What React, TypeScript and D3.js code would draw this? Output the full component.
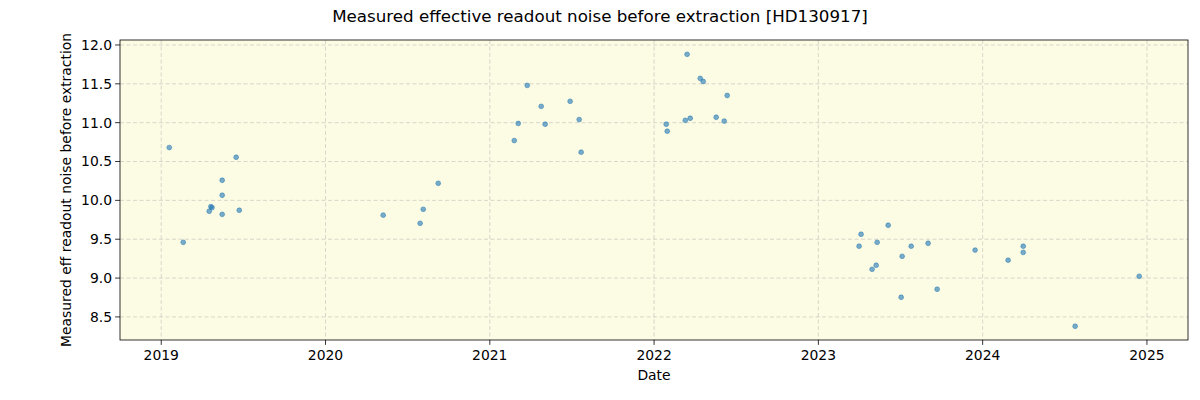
import React from "react";
import * as d3 from "d3";

const years: number[] = [
  2019.049, 2019.456, 2019.371, 2019.371, 2019.309, 2019.302, 2019.292, 2019.371, 2019.475, 2019.134,
  2020.686, 2020.595, 2020.351, 2020.576,
  2021.228, 2021.313, 2021.489, 2021.173, 2021.337, 2021.544, 2021.149, 2021.556,
  2022.201, 2022.281, 2022.299, 2022.445, 2022.074, 2022.08, 2022.19, 2022.22, 2022.378, 2022.427,
  2023.425, 2023.26, 2023.248, 2023.358, 2023.565, 2023.668, 2023.51, 2023.352, 2023.327, 2023.723, 2023.504,
  2023.954, 2024.247, 2024.247, 2024.155, 2024.953, 2024.563,
];
const noise: number[] = [
  10.68, 10.555, 10.259, 10.066, 9.906, 9.92, 9.86, 9.82, 9.873, 9.46,
  10.22, 9.885, 9.81, 9.705,
  11.48, 11.21, 11.275, 10.99, 10.98, 11.04, 10.77, 10.62,
  11.88, 11.57, 11.53, 11.35, 10.98, 10.89, 11.03, 11.057, 11.07, 11.02,
  9.68, 9.564, 9.41, 9.46, 9.41, 9.448, 9.28, 9.165, 9.113, 8.856, 8.753,
  9.36, 9.41, 9.33, 9.23, 9.023, 8.38,
];
const xTicks: number[] = [2019, 2020, 2021, 2022, 2023, 2024, 2025];
const yTicks: number[] = [8.5, 9.0, 9.5, 10.0, 10.5, 11.0, 11.5, 12.0];

const title = "Measured effective readout noise before extraction [HD130917]";
const xLabel = "Date";
const yLabel = "Measured eff readout noise before extraction";

export default function App() {
  const W = 1200, H = 400;
  const L = 120, R = 1188, T = 40, B = 340;
  const x = d3.scaleLinear().domain([2018.749, 2025.25]).range([L, R]);
  const y = d3.scaleLinear().domain([8.203, 12.064]).range([B, T]);
  const font = "DejaVu Sans, sans-serif";
  const fs = 13.9;
  return (
    <svg width={W} height={H} style={{ position: "absolute", left: 0, top: 0 }} fontFamily={font}>
      <rect x={0} y={0} width={W} height={H} fill="#ffffff" />
      <rect x={L} y={T} width={R - L} height={B - T} fill="#fcfbe3" />
      {xTicks.map((t) => (
        <line key={"gx" + t} x1={x(t)} x2={x(t)} y1={T} y2={B} stroke="#b0b0b0" strokeOpacity={0.6} strokeDasharray="4,2.5" strokeWidth={0.8} />
      ))}
      {yTicks.map((t) => (
        <line key={"gy" + t} x1={L} x2={R} y1={y(t)} y2={y(t)} stroke="#b0b0b0" strokeOpacity={0.6} strokeDasharray="4,2.5" strokeWidth={0.8} />
      ))}
      {years.map((yr, i) => (
        <circle key={i} cx={x(yr)} cy={y(noise[i])} r={2.4} fill="#1f77b4" fillOpacity={0.6} stroke="#1f77b4" strokeOpacity={0.6} strokeWidth={0.8} />
      ))}
      <rect x={L} y={T} width={R - L} height={B - T} fill="none" stroke="#000" strokeWidth={0.8} />
      {xTicks.map((t) => (
        <g key={"xt" + t}>
          <line x1={x(t)} x2={x(t)} y1={B} y2={B + 4.9} stroke="#000" strokeWidth={0.8} />
          <text x={x(t)} y={B + 19.5} textAnchor="middle" fontSize={fs} fill="#000">{t}</text>
        </g>
      ))}
      {yTicks.map((t) => (
        <g key={"yt" + t}>
          <line x1={L - 4.9} x2={L} y1={y(t)} y2={y(t)} stroke="#000" strokeWidth={0.8} />
          <text x={L - 8} y={y(t)} dy="0.35em" textAnchor="end" fontSize={fs} fill="#000">{t.toFixed(1)}</text>
        </g>
      ))}
      <text x={(L + R) / 2} y={380} textAnchor="middle" fontSize={fs} fill="#000">{xLabel}</text>
      <text transform={`translate(71,${(T + B) / 2}) rotate(-90)`} textAnchor="middle" fontSize={fs} fill="#000">{yLabel}</text>
      <text x={600} y={22} textAnchor="middle" fontSize={16.7} fill="#000">{title}</text>
    </svg>
  );
}
